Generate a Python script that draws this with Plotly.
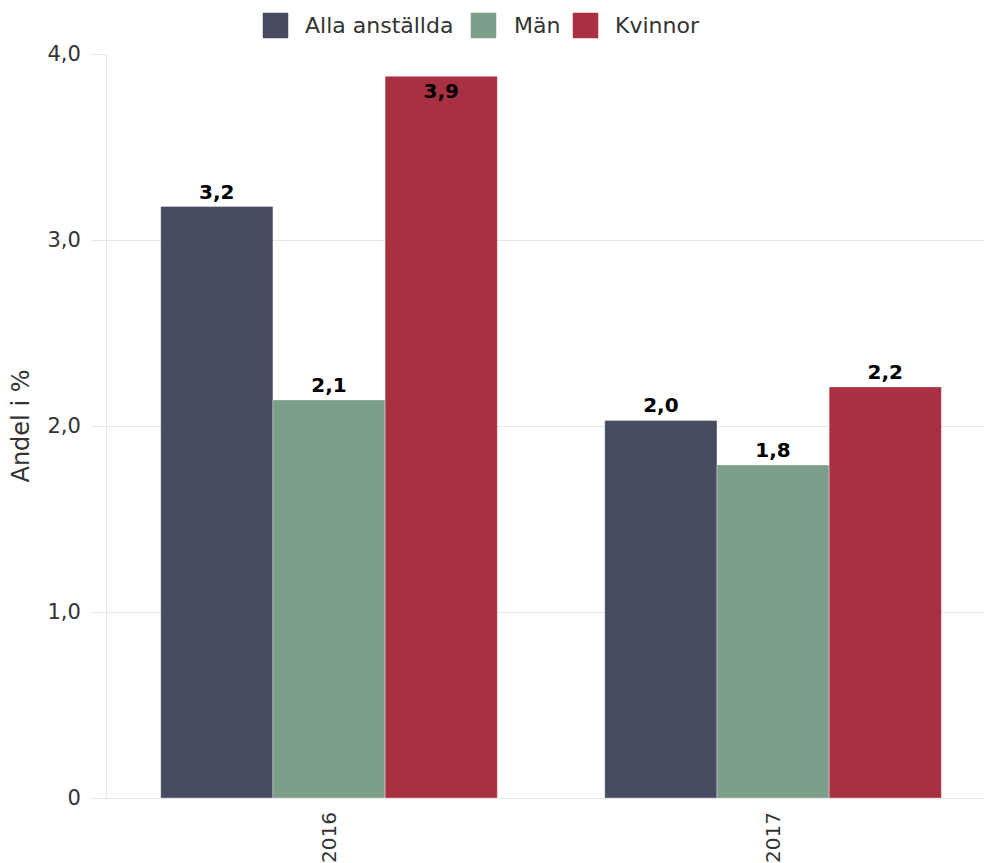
import plotly.graph_objects as go

# ── DATA ──────────────────────────────────────────────────────────
years = ["2016", "2017"]
series_names = ["Alla anställda", "Män", "Kvinnor"]
alla = [3.18, 2.03]
man = [2.14, 1.79]
kvinnor = [3.88, 2.21]
y_tickvals = [0, 1, 2, 3, 4]
y_ticktext = ["0", "1,0", "2,0", "3,0", "4,0"]

colors = ["#464b5f", "#7d9e89", "#a83040"]
text_pos = [["outside", "outside"], ["outside", "outside"], ["inside", "outside"]]

FONT = "DejaVu Sans, Verdana, sans-serif"
GRID = "#e6e6e6"

# ── FIGURE ────────────────────────────────────────────────────────
fig = go.Figure()

for name, vals, col, tp in zip(series_names, [alla, man, kvinnor], colors, text_pos):
    fig.add_trace(go.Bar(
        x=years,
        y=vals,
        name=name,
        marker=dict(color=col, line=dict(color="rgba(255,255,255,0.35)", width=1)),
        texttemplate="%{y:.1f}",
        textposition=tp,
        insidetextanchor="end",
        constraintext="none",
        textangle=0,
        textfont=dict(family=FONT, size=20, color="#000", weight="bold"),
        cliponaxis=False,
        showlegend=False,
        hovertemplate="%{x}<br>" + name + ": %{y:.1f}<extra></extra>",
    ))

# hand-built legend with large squares (plotly caps legend icon size)
legend_sq_px = [156, 364, 466]     # square left edge, px from plot left
legend_txt_px = [196, 405, 506]    # text start, px from plot left
for name, col, sx, tx in zip(series_names, colors, legend_sq_px, legend_txt_px):
    fig.add_shape(
        type="rect", xref="paper", yref="paper",
        xsizemode="pixel", ysizemode="pixel",
        xanchor=0, yanchor=1,
        x0=sx, x1=sx + 25, y0=16, y1=41,
        fillcolor=col, line=dict(color=col, width=0.5),
    )
    fig.add_annotation(
        text=name, xref="paper", yref="paper",
        x=0, y=1, xshift=tx, yshift=28.5,
        xanchor="left", yanchor="middle", showarrow=False,
        font=dict(family=FONT, size=22, color="#333"),
    )

fig.update_layout(
    width=984,
    height=863,
    barmode="group",
    bargap=0.242,
    bargroupgap=0,
    separators=",.",
    plot_bgcolor="white",
    paper_bgcolor="white",
    font=dict(family=FONT, size=21, color="#333"),
    margin=dict(l=107, r=0, t=54, b=62),
    xaxis=dict(
        type="category",
        range=[-0.5, 1.475],
        showline=True,
        linecolor=GRID,
        linewidth=1,
        showgrid=False,
        ticks="",
        tickangle=-90,
        ticklabelstandoff=5,
        tickfont=dict(size=20, color="#333"),
    ),
    yaxis=dict(
        range=[0, 4],
        tickvals=y_tickvals,
        ticktext=y_ticktext,
        showline=True,
        linecolor=GRID,
        linewidth=1,
        showgrid=True,
        gridcolor=GRID,
        gridwidth=1,
        zeroline=False,
        ticks="outside",
        ticklen=15,
        tickcolor=GRID,
        ticklabelstandoff=6,
        tickfont=dict(size=21, color="#333"),
        title=dict(text="Andel i %", font=dict(size=24, color="#333"), standoff=10),
    ),
)

# drop the default body margin so the figure sits flush in the window
fig.write_html(
    "out.html",
    config={"displayModeBar": False},
    post_script="document.body.style.margin='0';",
)
